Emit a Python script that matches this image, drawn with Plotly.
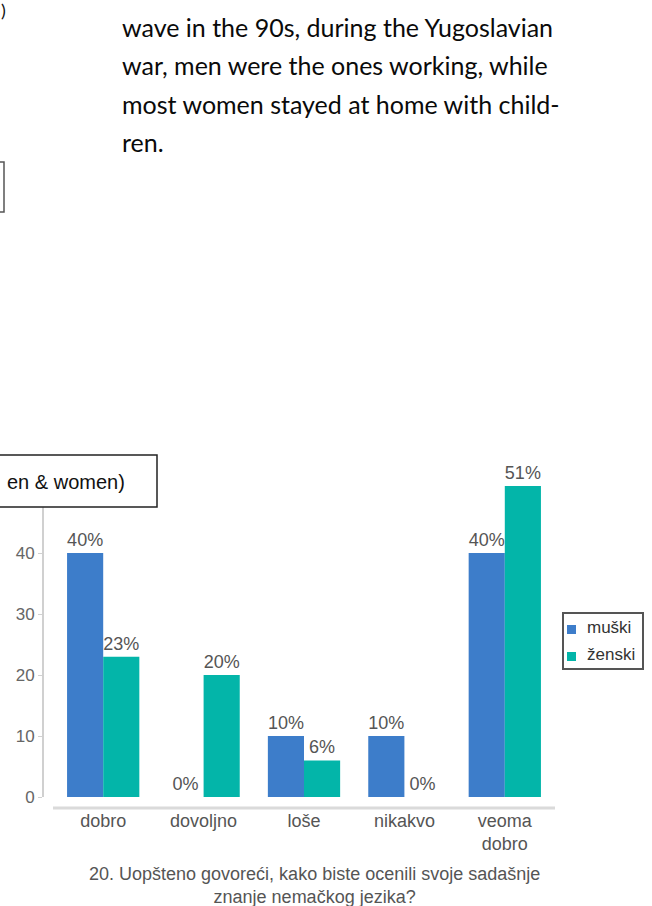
import plotly.graph_objects as go

W, H = 652, 906

categories = ["dobro", "dovoljno", "loše", "nikakvo", "veoma<br>dobro"]
muski = [40, 0, 10, 10, 40]
zenski = [23, 20, 6, 0, 51]
series_names = ["muški", "ženski"]
y_ticks = [0, 10, 20, 30, 40]
axis_title = "20. Uopšteno govoreći, kako biste ocenili svoje sadašnje<br>znanje nemačkog jezika?"
body_lines = [
    "wave in the 90s, during the Yugoslavian",
    "war, men were the ones working, while",
    "most women stayed at home with child-",
    "ren.",
]
box_text = "en & women)"

BLUE = "#3d7dca"
TEAL = "#03b5a9"
GRAY = "#555555"
FONT = "Liberation Sans, Arial, sans-serif"
colors = [BLUE, TEAL]

# value range of the y axis (0 sits a little above the category axis line)
Y_MIN, Y_MAX = -1.80, 54.43
X_MIN, X_MAX = -0.5996, 4.5


def px_x(x):
    return x / W


def px_y(y):
    return 1 - y / H


fig = go.Figure()
for name, vals, col in [(series_names[0], muski, BLUE), (series_names[1], zenski, TEAL)]:
    fig.add_trace(go.Bar(
        name=name, x=categories, y=vals, marker=dict(color=col, line=dict(width=0)),
        text=[f"{v}%" for v in vals], textposition="outside",
        textfont=dict(family=FONT, size=18, color=GRAY),
        cliponaxis=False, showlegend=False,
    ))

annotations = []
# body text
for i, line in enumerate(body_lines):
    annotations.append(dict(
        x=px_x(120), y=px_y(27 + i * 38.4), xref="paper", yref="paper",
        xanchor="left", yanchor="middle", showarrow=False, text=line,
        font=dict(family="Lato, Carlito, sans-serif", size=25, color="#0a0a0a"),
    ))
annotations.append(dict(
    x=px_x(0), y=px_y(-2), xref="paper", yref="paper", xanchor="left", yanchor="top",
    showarrow=False, text=")", borderpad=0,
    font=dict(family="Lato, sans-serif", size=18, color="#111111"),
))
# box text
annotations.append(dict(
    x=px_x(127), y=px_y(482), xref="paper", yref="paper", xanchor="right", yanchor="middle",
    showarrow=False, text=box_text, font=dict(family=FONT, size=20, color="#111111"),
))
# axis title
annotations.append(dict(
    x=px_x(314), y=px_y(885), xref="paper", yref="paper", xanchor="center", yanchor="middle",
    showarrow=False, text=axis_title, font=dict(family=FONT, size=18, color=GRAY),
))

shapes = [
    # y axis line from 0 upward
    dict(type="line", xref="paper", yref="y", x0=px_x(43), x1=px_x(43), y0=0, y1=Y_MAX,
         line=dict(color="#d0d0d0", width=2), layer="below"),
    # category axis line
    dict(type="line", xref="x", yref="paper", x0=-0.5, x1=4.5, y0=px_y(808), y1=px_y(808),
         line=dict(color="#dadada", width=3), layer="below"),
    dict(type="rect", xref="paper", yref="paper", x0=px_x(-10), x1=px_x(157), y0=px_y(507), y1=px_y(455),
         line=dict(color="#222222", width=1.5), fillcolor="white", layer="above"),
    dict(type="rect", xref="paper", yref="paper", x0=px_x(-10), x1=px_x(4), y0=px_y(212), y1=px_y(162),
         line=dict(color="#555555", width=1.5), fillcolor="white", layer="above"),
    # legend frame
    dict(type="rect", xref="paper", yref="paper", x0=px_x(563), x1=px_x(643), y0=px_y(669), y1=px_y(613),
         line=dict(color="#555555", width=2), fillcolor="white", layer="above"),
]
# legend entries
for i, name in enumerate(series_names):
    cy = 628 + i * 27
    shapes.append(dict(type="rect", xref="paper", yref="paper",
                       x0=px_x(567), x1=px_x(576), y0=px_y(cy + 6), y1=px_y(cy - 3),
                       line=dict(width=0), fillcolor=colors[i], layer="above"))
    annotations.append(dict(
        x=px_x(585), y=px_y(cy - 1), xref="paper", yref="paper", xanchor="left", yanchor="middle",
        showarrow=False, text=name, font=dict(family=FONT, size=17, color="#333333"),
    ))

fig.update_layout(
    width=W, height=H, margin=dict(l=0, r=0, t=0, b=0, autoexpand=False),
    paper_bgcolor="white", plot_bgcolor="white",
    barmode="group", bargap=0.28, bargroupgap=0,
    font=dict(family=FONT, size=18, color=GRAY),
    showlegend=False,
    xaxis=dict(domain=[px_x(43), px_x(555)], range=[X_MIN, X_MAX], type="category",
               showline=False, ticks="", automargin=False,
               tickfont=dict(family=FONT, size=18, color=GRAY), showgrid=False, zeroline=False),
    yaxis=dict(domain=[px_y(808), px_y(465)], range=[Y_MIN, Y_MAX],
               tickvals=y_ticks, showline=False, automargin=False,
               ticks="outside", ticklen=4, tickcolor="#d0d0d0",
               tickfont=dict(family=FONT, size=17, color="#666666"),
               showgrid=False, zeroline=False),
    annotations=annotations, shapes=shapes,
)

fig.write_html("out.html")
